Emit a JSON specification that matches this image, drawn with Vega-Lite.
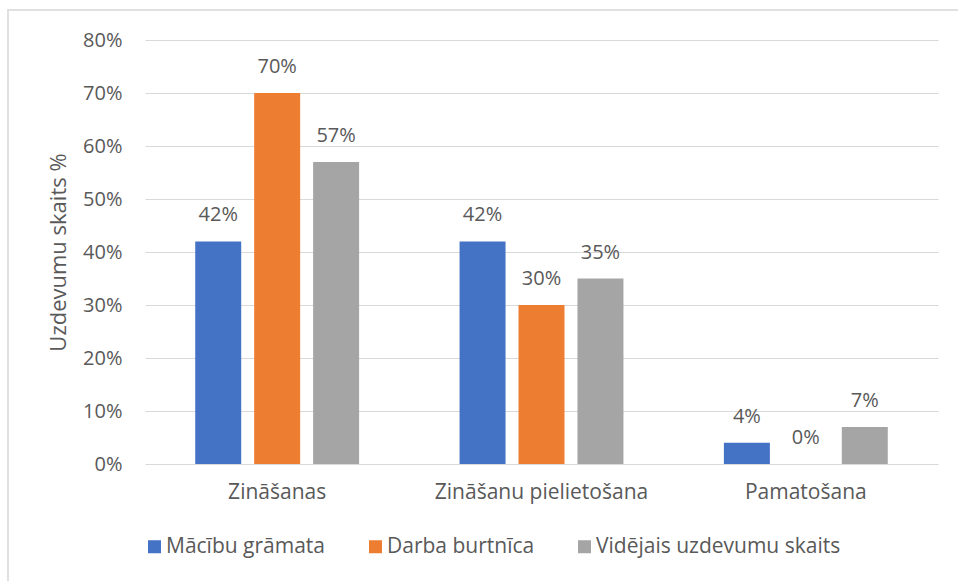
{
  "$schema": "https://vega.github.io/schema/vega-lite/v6.json",
  "autosize": {"type": "none"},
  "padding": {"left": 8, "top": 10, "right": -6, "bottom": -6},
  "width": 956,
  "height": 577,
  "background": "white",
  "config": {
    "font": "Open Sans",
    "view": {"stroke": "#e0e0e0", "strokeWidth": 2},
    "axis": {
      "labelColor": "#595959",
      "labelFontSize": 20,
      "titleColor": "#595959",
      "titleFontWeight": "normal",
      "gridColor": "#d9d9d9",
      "gridWidth": 1
    }
  },
  "data": {
    "values": [
      {"category": "Zināšanas", "series": "Mācību grāmata", "value": 0.42},
      {"category": "Zināšanas", "series": "Darba burtnīca", "value": 0.70},
      {"category": "Zināšanas", "series": "Vidējais uzdevumu skaits", "value": 0.57},
      {"category": "Zināšanu pielietošana", "series": "Mācību grāmata", "value": 0.42},
      {"category": "Zināšanu pielietošana", "series": "Darba burtnīca", "value": 0.30},
      {"category": "Zināšanu pielietošana", "series": "Vidējais uzdevumu skaits", "value": 0.35},
      {"category": "Pamatošana", "series": "Mācību grāmata", "value": 0.04},
      {"category": "Pamatošana", "series": "Darba burtnīca", "value": 0.00},
      {"category": "Pamatošana", "series": "Vidējais uzdevumu skaits", "value": 0.07}
    ]
  },
  "encoding": {
    "x": {
      "field": "category",
      "type": "nominal",
      "sort": ["Zināšanas", "Zināšanu pielietošana", "Pamatošana"],
      "scale": {"range": [137, 930], "paddingInner": 0.38, "paddingOuter": 0.19},
      "axis": {
        "orient": "bottom",
        "title": null,
        "domain": false,
        "ticks": false,
        "tickSize": 0,
        "labelPadding": 17,
        "labelAngle": 0,
        "labelFontSize": 21,
        "labelLimit": 0,
        "offset": -123,
        "grid": false
      }
    },
    "xOffset": {
      "field": "series",
      "type": "nominal",
      "sort": ["Mācību grāmata", "Darba burtnīca", "Vidējais uzdevumu skaits"],
      "scale": {"paddingInner": 0.22, "paddingOuter": 0}
    },
    "y": {
      "field": "value",
      "type": "quantitative",
      "scale": {"domain": [0, 0.8], "range": [454, 30], "nice": false, "zero": true},
      "axis": {
        "format": ".0%",
        "values": [0, 0.1, 0.2, 0.3, 0.4, 0.5, 0.6, 0.7, 0.8],
        "title": "Uzdevumu skaits %",
        "titleFontSize": 22,
        "titlePadding": 12,
        "domain": false,
        "ticks": false,
        "tickSize": 0,
        "labelPadding": 0,
        "offset": -114,
        "grid": true
      }
    }
  },
  "layer": [
    {
      "mark": {"type": "bar"},
      "encoding": {
        "color": {
          "field": "series",
          "type": "nominal",
          "scale": {
            "domain": ["Mācību grāmata", "Darba burtnīca", "Vidējais uzdevumu skaits"],
            "range": ["#4472C4", "#ED7D31", "#A5A5A5"]
          },
          "legend": {
            "orient": "none",
            "legendX": 136,
            "legendY": 526,
            "direction": "horizontal",
            "title": null,
            "symbolType": "square",
            "symbolSize": 169,
            "symbolStrokeWidth": 0,
            "symbolOpacity": 1,
            "labelFontSize": 21,
            "labelColor": "#595959",
            "labelOffset": 1,
            "labelLimit": 0,
            "columnPadding": 39,
            "padding": 0
          }
        }
      }
    },
    {
      "mark": {"type": "text", "baseline": "alphabetic", "dy": -20, "fontSize": 20, "color": "#595959"},
      "encoding": {
        "text": {"field": "value", "type": "quantitative", "format": ".0%"}
      }
    }
  ]
}
